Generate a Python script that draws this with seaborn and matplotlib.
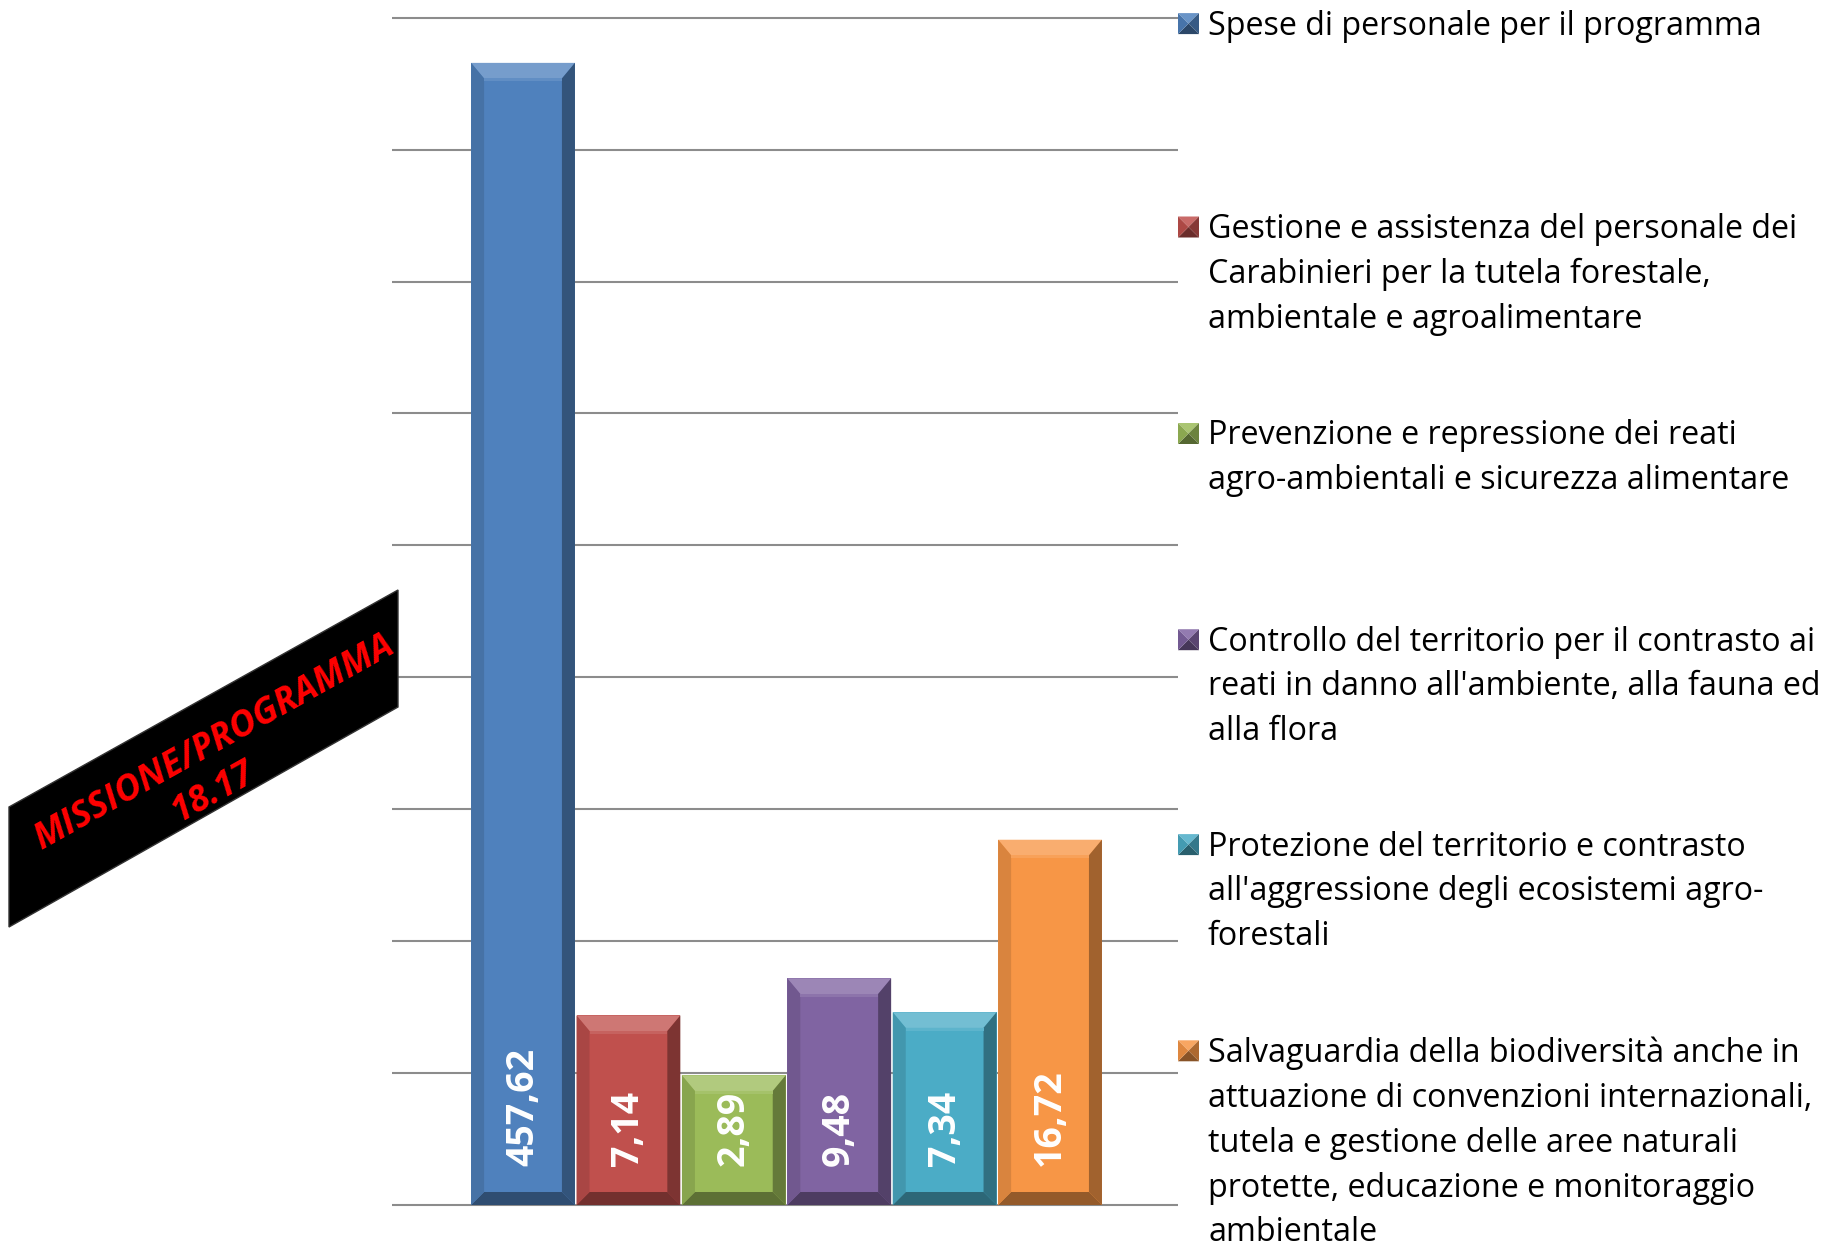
import numpy as np
import pandas as pd
import matplotlib
matplotlib.use("Agg")
import matplotlib.pyplot as plt
import seaborn as sns
from matplotlib.patches import Polygon
from matplotlib.transforms import IdentityTransform
from matplotlib.colors import to_rgb

# ---------------- data ----------------
categories = [
    "Spese di personale per il programma",
    "Gestione e assistenza del personale dei\nCarabinieri per la tutela forestale,\nambientale e agroalimentare",
    "Prevenzione e repressione dei reati\nagro-ambientali e sicurezza alimentare",
    "Controllo del territorio per il contrasto ai\nreati in danno all'ambiente, alla fauna ed\nalla flora",
    "Protezione del territorio e contrasto\nall'aggressione degli ecosistemi agro-\nforestali",
    "Salvaguardia della biodiversità anche in\nattuazione di convenzioni internazionali,\ntutela e gestione delle aree naturali\nprotette, educazione e monitoraggio\nambientale",
]
values = [457.62, 7.14, 2.89, 9.48, 7.34, 16.72]
value_labels = ["457,62", "7,14", "2,89", "9,48", "7,34", "16,72"]
colors = ["#4F81BD", "#C0504D", "#9BBB59", "#8064A2", "#4BACC6", "#F79646"]
badge_lines = ["MISSIONE/PROGRAMMA", "18.17"]

# non-linear (compressed) value axis: knots value -> gridline units
scale_values = [-100, 0, 3, 7, 10, 17, 500, 5000]
scale_units = [-34, 0, 1.02, 1.42, 1.78, 2.81, 9.22, 68.9]
n_grid = 9

# ---------------- style ----------------
W, H, DPI = 1845, 1246, 100
sns.set_theme(style="white")
plt.rcParams["font.family"] = ["Open Sans", "DejaVu Sans"]

fig = plt.figure(figsize=(W / DPI, H / DPI), dpi=DPI)
fig.patch.set_facecolor("white")

ax_left, ax_right, ax_top, ax_bottom = 392, 1178, 17.7, 1205
ax = fig.add_axes([ax_left / W, 1 - ax_bottom / H,
                   (ax_right - ax_left) / W, (ax_bottom - ax_top) / H])
XLIM = (-1.243, 6.214)


def fwd(v):
    return np.interp(v, scale_values, scale_units)


def inv(g):
    return np.interp(g, scale_units, scale_values)


df = pd.DataFrame({"categoria": categories, "valore": values})
sns.barplot(data=df, x="categoria", y="valore", hue="categoria",
            palette=colors, saturation=1, width=0.985, legend=False,
            ax=ax, zorder=3, linewidth=0)

ax.set_yscale("function", functions=(fwd, inv))
ax.set_ylim(0, float(inv(n_grid)))
ax.set_xlim(*XLIM)
ax.set_xlabel("")
ax.set_ylabel("")
ax.set_xticks([])
ax.set_yticks([])
for s in ax.spines.values():
    s.set_visible(False)
ax.set_facecolor("none")

grid_vals = inv(np.arange(n_grid + 1))
ax.hlines(grid_vals, XLIM[0], XLIM[1], colors="#8c8c8c", linewidth=1.5,
          zorder=1, clip_on=False)

# ---------------- bevel effect on the bars ----------------
fig.canvas.draw()


def shade(c, f):
    r, g, b = to_rgb(c)
    if f >= 0:
        return (r + (1 - r) * f, g + (1 - g) * f, b + (1 - b) * f)
    return (r * (1 + f), g * (1 + f), b * (1 + f))


bars = [p for p in ax.patches]
bev = 13
for p, col in zip(bars, colors):
    x0, y0 = p.get_x(), p.get_y()
    x1, y1 = x0 + p.get_width(), y0 + p.get_height()
    (L, B), (R, T) = ax.transData.transform([(x0, y0), (x1, y1)])
    Li, Ri, Bi, Ti = L + bev, R - bev, B + bev, T - bev * 1.2
    faces = [
        ([(L, T), (R, T), (Ri, Ti), (Li, Ti)], shade(col, 0.22)),
        ([(R, T), (R, B), (Ri, Bi), (Ri, Ti)], shade(col, -0.35)),
        ([(L, B), (R, B), (Ri, Bi), (Li, Bi)], shade(col, -0.4)),
        ([(L, T), (L, B), (Li, Bi), (Li, Ti)], shade(col, -0.12)),
    ]
    for pts, fc in faces:
        fig.add_artist(Polygon(pts, closed=True, facecolor=fc, edgecolor="none",
                               transform=IdentityTransform(), zorder=4))
    fig.add_artist(Polygon([(Li, Ti), (Ri, Ti), (Ri, Ti - 3), (Li, Ti - 3)],
                           closed=True, facecolor=shade(col, 0.1),
                           edgecolor="none", transform=IdentityTransform(),
                           zorder=4))

# ---------------- value labels ----------------
for p, lab in zip(bars, value_labels):
    ax.annotate(lab, xy=(p.get_x() + p.get_width() / 2, 0), xycoords="data",
                xytext=(0, 28), textcoords="offset points",
                rotation=90, ha="center", va="bottom", color="white",
                fontsize=27, fontweight="bold", zorder=6)

# ---------------- legend (manual, evenly spaced) ----------------
leg_y = [23.6, 227, 433.5, 639.7, 844.6, 1050.8]
mk = 21
mx0 = 1178
for cat, col, yc in zip(categories, colors, leg_y):
    cx, cy = mx0 + mk / 2, H - yc
    l, r, b, t = mx0, mx0 + mk, cy - mk / 2, cy + mk / 2
    tris = [
        ([(l, t), (r, t), (cx, cy)], shade(col, 0.15)),
        ([(r, t), (r, b), (cx, cy)], shade(col, -0.3)),
        ([(l, b), (r, b), (cx, cy)], shade(col, -0.45)),
        ([(l, t), (l, b), (cx, cy)], shade(col, -0.1)),
    ]
    for pts, fc in tris:
        fig.add_artist(Polygon(pts, closed=True, facecolor=fc, edgecolor="none",
                               transform=IdentityTransform(), zorder=5))
    fig.text(1208 / W, 1 - (yc - 14) / H, cat, ha="left", va="top",
             fontsize=23.2, color="black", linespacing=1.47)

# ---------------- badge ----------------
badge = [(9, 807), (398, 590), (398, 707), (9, 927)]
fig.add_artist(Polygon([(x / W, 1 - y / H) for x, y in badge], closed=True,
                       facecolor="black", edgecolor="#333333", linewidth=1,
                       transform=fig.transFigure, zorder=2))
for line, (bx, by) in zip(badge_lines, [(214, 743), (214, 792)]):
    fig.text(bx / W, 1 - by / H, line, ha="center", va="center",
             rotation=29.2, rotation_mode="anchor", color="#FF0000",
             fontsize=26, fontweight="bold", fontstyle="italic", zorder=3)

fig.savefig("out.png", dpi=DPI, facecolor="white")
